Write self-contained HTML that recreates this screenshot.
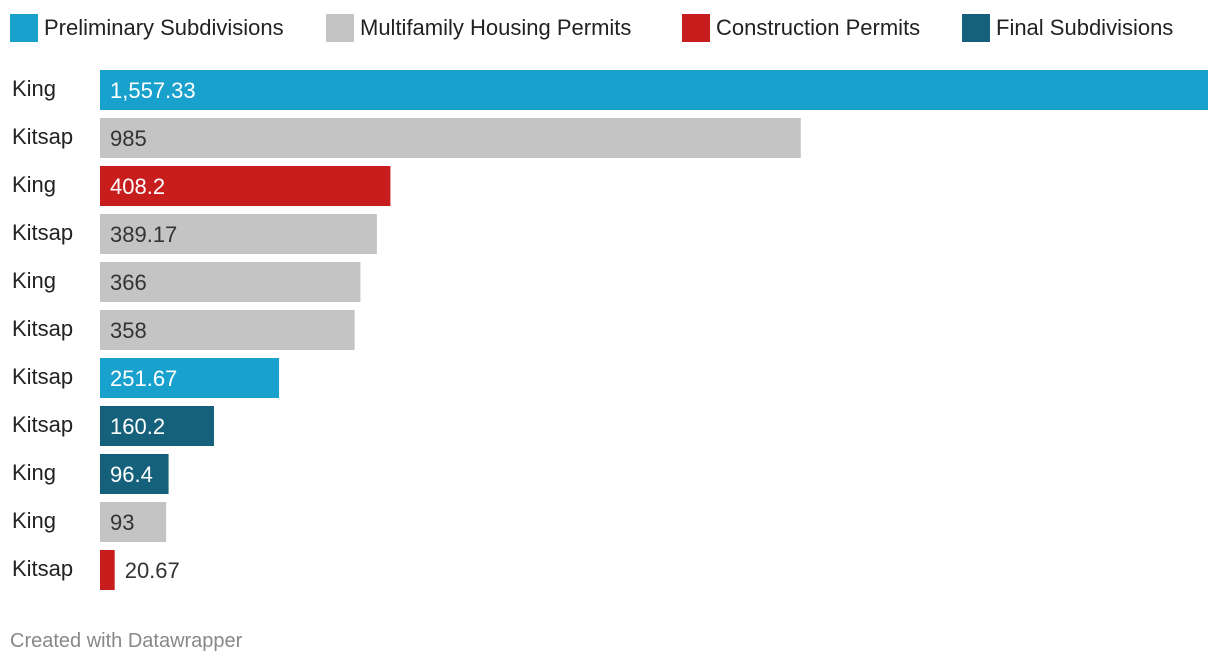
<!DOCTYPE html>
<html><head><meta charset="utf-8">
<style>
body{margin:0;width:1220px;height:666px;background:#fff;font-family:"Liberation Sans",Roboto,sans-serif;overflow:hidden;position:relative}
.leg{position:absolute;top:14px;height:28px;display:flex;align-items:center;font-size:22px;color:#222}
.sw{width:28px;height:28px;margin-right:6px}
#foot{position:absolute;left:10px;top:630px;font-size:20px;color:#888}
</style></head><body>
<div class="leg" style="left:10px"><div class="sw" style="background:#18a1cd"></div>Preliminary Subdivisions</div>
<div class="leg" style="left:326px"><div class="sw" style="background:#c4c4c4"></div>Multifamily Housing Permits</div>
<div class="leg" style="left:682px"><div class="sw" style="background:#c71e1d"></div>Construction Permits</div>
<div class="leg" style="left:962px"><div class="sw" style="background:#15607a"></div>Final Subdivisions</div>
<svg id="chart" width="1220" height="620" style="position:absolute;left:0;top:0"></svg>
<div id="foot">Created with Datawrapper</div>
<script>
const categories=["King","Kitsap","King","Kitsap","King","Kitsap","Kitsap","Kitsap","King","King","Kitsap"];
const values=[1557.33,985,408.2,389.17,366,358,251.67,160.2,96.4,93,20.67];
const seriesTypes=["pre","multi","cons","multi","multi","multi","pre","final","final","multi","cons"];
const valueLabels=["1,557.33","985","408.2","389.17","366","358","251.67","160.2","96.4","93","20.67"];
const colors={pre:"#18a1cd",multi:"#c4c4c4",cons:"#c71e1d",final:"#15607a"};
const svg=document.getElementById('chart');const NS="http://www.w3.org/2000/svg";
const x0=100,x1=1208,maxV=Math.max(...values);
const xs=v=>v/maxV*(x1-x0);
const ys=i=>70+i*48;
values.forEach((v,i)=>{
 const y=ys(i),w=xs(v);
 const t=document.createElementNS(NS,'text');
 
 
 t.setAttribute('x',12);t.setAttribute('y',y+26);t.setAttribute('font-size','22');t.setAttribute('fill','#222');
 t.textContent=categories[i];svg.appendChild(t);
 const r=document.createElementNS(NS,'rect');
 
 
 r.setAttribute('x',x0);r.setAttribute('y',y);r.setAttribute('width',w);r.setAttribute('height',40);
 r.setAttribute('fill',colors[seriesTypes[i]]);svg.appendChild(r);
 const inside=w>60;
 const l=document.createElementNS(NS,'text');
 
 
 l.setAttribute('x',inside?x0+10:x0+w+10);l.setAttribute('y',y+28);l.setAttribute('font-size','22');
 l.setAttribute('fill',inside&&seriesTypes[i]!=="multi"?"#fff":"#333");
 l.textContent=valueLabels[i];svg.appendChild(l);
});
</script>
</body></html>
